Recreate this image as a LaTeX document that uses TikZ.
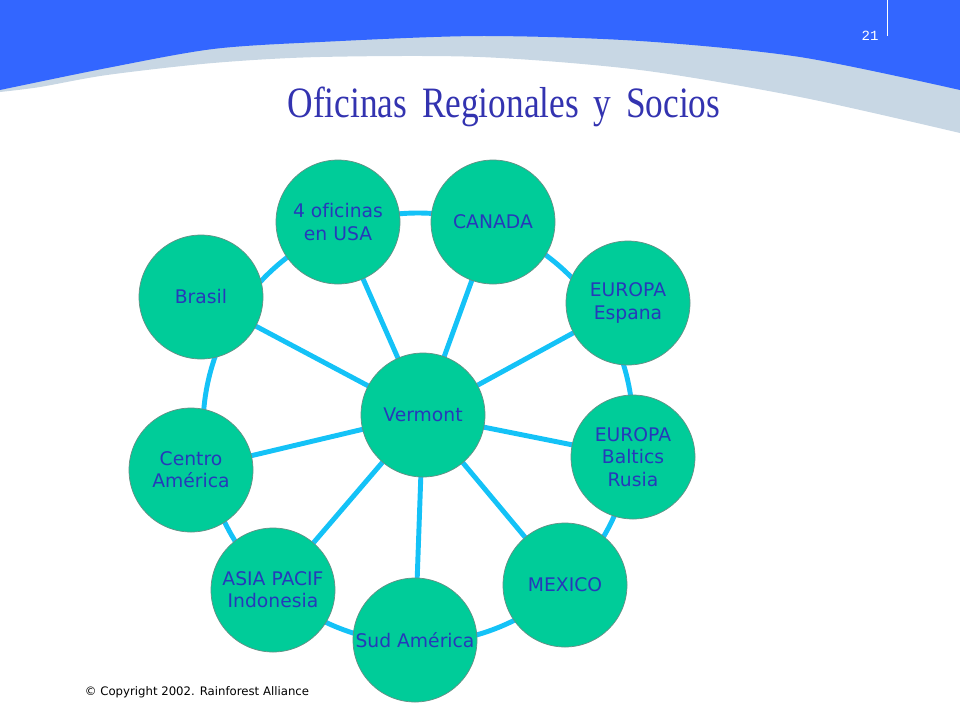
\documentclass[tikz,border=0pt]{standalone}
\usepackage{fontspec}
\setmainfont{Liberation Serif}
\newfontfamily\verdana[Ligatures=NoCommon]{DejaVu Sans}
\newfontfamily\mono{Liberation Mono}
\usetikzlibrary{backgrounds}
\definecolor{SlideBlue}{HTML}{3366FF}
\definecolor{SwooshGray}{HTML}{C8D7E4}
\definecolor{TitleBlue}{HTML}{3333B0}
\definecolor{OfficeGreen}{HTML}{00CC99}
\definecolor{OfficeText}{HTML}{2639BA}
\definecolor{LinkCyan}{HTML}{14C2F7}
\tikzset{
  office/.style={circle,fill=OfficeGreen,draw=gray!80!OfficeGreen,line width=.6pt,
    minimum size=3.72cm,inner sep=0pt,align=center,text=OfficeText,
    font=\verdana\fontsize{16}{19}\selectfont},
  link/.style={LinkCyan,line width=4.2pt}
}
\begin{document}
\begin{tikzpicture}[x=0.03cm,y=-0.03cm]
  \useasboundingbox (0,0) rectangle (960,720);
  % header band
  \fill[SwooshGray] (0,0) -- (960,0) -- plot[smooth] coordinates {(960,133) (800,97) (640,70) (480,57) (320,57) (213,63) (107,75) (40,87) (0,92)} -- cycle;
  \fill[SlideBlue] (0,0) -- (960,0) -- plot[smooth] coordinates {(960,90) (800,57) (640,41) (480,36) (320,42) (213,49) (107,68) (0,90)} -- cycle;
  \draw[white,line width=.8pt] (887,0) -- (887,36);
  \node[white,font=\mono\fontsize{12}{14}\selectfont] (page) at (870,36) {21};
  \node[TitleBlue] (title) at (504,107) {\scalebox{0.815}[1]{\fontsize{37}{40}\selectfont Oficinas\ \,Regionales\ \,y\ \,Socios}};
  % offices
  \node[office] (vermont) at (423,415) {Vermont};
  \node[office] (usa) at (338,222) {4 oficinas\\en USA};
  \node[office] (canada) at (493,222) {CANADA};
  \node[office] (espana) at (628,303) {EUROPA\\Espana};
  \node[office] (baltics) at (633,457) {EUROPA\\Baltics\\Rusia};
  \node[office] (mexico) at (565,585) {MEXICO};
  \node[office] (sud) at (415,640) {Sud Am\'erica};
  \node[office] (asia) at (273,590) {ASIA PACIF\\Indonesia};
  \node[office] (centro) at (191,470) {Centro\\Am\'erica};
  \node[office] (brasil) at (201,297) {Brasil};
  \coordinate (ring) at (418,428);
  \begin{scope}[on background layer]
    \draw[link] (ring) circle[radius=6.45cm];
    \foreach \n in {usa,canada,espana,baltics,mexico,sud,asia,centro,brasil}
      \draw[link] (vermont.center) -- (\n.center);
  \end{scope}
  \node[font=\verdana\fontsize{10}{12}\selectfont] (copy) at (197,692) {\textcopyright{} Copyright 2002. Rainforest Alliance};
\end{tikzpicture}
\end{document}
